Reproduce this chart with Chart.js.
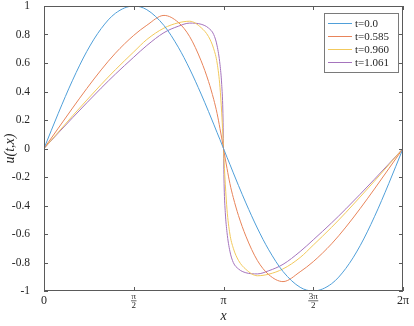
<!DOCTYPE html>
<html>
<head>
<meta charset="utf-8">
<script src="https://cdn.jsdelivr.net/npm/chart.js@4.4.1/dist/chart.umd.min.js"></script>
<style>
  html, body { margin: 0; padding: 0; background: #fff; }
  #wrap { width: 414px; height: 326px; }
</style>
</head>
<body>
<div id="wrap"><canvas id="burgersChart" width="414" height="326"></canvas></div>
<script>
// sample positions along x (radians), shared by every curve
const xs = [0, 0.25, 0.5, 0.75, 1.0, 1.25, 1.5708, 1.8, 2.1, 2.35, 2.55, 2.75, 2.88, 2.97, 3.03, 3.08, 3.11, 3.13, 3.1416,
            3.1532, 3.1732, 3.2032, 3.2532, 3.3132, 3.4032, 3.5332, 3.7332, 3.9332, 4.1832, 4.4832, 4.7124, 5.0332, 5.2832, 5.5332, 5.7832, 6.0332, 6.2832];

// u(t,x)
const u0 = [0, 0.247, 0.479, 0.682, 0.841, 0.949, 1.0, 0.974, 0.863, 0.711, 0.558, 0.382, 0.259, 0.171, 0.111, 0.062, 0.032, 0.012, 0,
            -0.012, -0.032, -0.062, -0.111, -0.171, -0.259, -0.382, -0.558, -0.711, -0.863, -0.974, -1.0, -0.949, -0.841, -0.682, -0.479, -0.247, 0];
const u1 = [0, 0.1425, 0.284, 0.4215, 0.5515, 0.669, 0.794, 0.865, 0.934, 0.885, 0.785, 0.615, 0.47, 0.345, 0.245, 0.14, 0.074, 0.027, 0,
            -0.027, -0.074, -0.14, -0.245, -0.345, -0.47, -0.615, -0.785, -0.885, -0.934, -0.865, -0.794, -0.669, -0.5515, -0.4215, -0.284, -0.1425, 0];
const u2 = [0, 0.115, 0.229, 0.34, 0.449, 0.553, 0.678, 0.765, 0.845, 0.882, 0.893, 0.848, 0.785, 0.70, 0.60, 0.43, 0.25, 0.10, 0,
            -0.10, -0.25, -0.43, -0.60, -0.70, -0.785, -0.848, -0.893, -0.882, -0.845, -0.765, -0.678, -0.553, -0.449, -0.34, -0.229, -0.115, 0];
const u3 = [0, 0.109, 0.216, 0.321, 0.4235, 0.522, 0.641, 0.723, 0.813, 0.858, 0.88, 0.872, 0.845, 0.80, 0.72, 0.59, 0.45, 0.27, 0,
            -0.27, -0.45, -0.59, -0.72, -0.80, -0.845, -0.872, -0.88, -0.858, -0.813, -0.723, -0.641, -0.522, -0.4235, -0.321, -0.216, -0.109, 0];

const seriesLabels = ['t=0.0', 't=0.585', 't=0.960', 't=1.061'];
const seriesColors = ['#4f9fd9', '#e8845a', '#f2c95c', '#a574bd'];

// x ticks: value in radians, label as [numerator, denominator] or plain text
const xTickVals = [0, 1.5708, 3.1416, 4.7124, 6.2832];
const xTickLabels = ['0', ['π', '2'], 'π', ['3π', '2'], '2π'];

const SERIF = '"Liberation Serif", "DejaVu Serif", serif';
const AXIS_COLOR = '#5a5a5a';

const toPoints = arr => xs.map((x, i) => ({ x: x, y: arr[i] }));

// box, inward ticks, x tick labels and the legend, MATLAB style
const matlabAxes = {
    id: 'matlabAxes',
    afterDraw(chart) {
        const ctx = chart.ctx;
        const a = chart.chartArea;
        const sx = chart.scales.x, sy = chart.scales.y;
        const tl = 4;
        ctx.save();
        ctx.strokeStyle = AXIS_COLOR;
        ctx.lineWidth = 1;
        ctx.strokeRect(a.left + 0.5, a.top + 0.5, a.right - a.left - 1, a.bottom - a.top - 1);

        ctx.beginPath();
        xTickVals.forEach(v => {
            const px = Math.round(sx.getPixelForValue(v)) + 0.5;
            ctx.moveTo(px, a.bottom); ctx.lineTo(px, a.bottom - tl);
            ctx.moveTo(px, a.top); ctx.lineTo(px, a.top + tl);
        });
        sy.ticks.forEach(t => {
            const py = Math.round(sy.getPixelForValue(t.value)) + 0.5;
            ctx.moveTo(a.left, py); ctx.lineTo(a.left + tl, py);
            ctx.moveTo(a.right, py); ctx.lineTo(a.right - tl, py);
        });
        ctx.stroke();

        // x tick labels (fractions drawn stacked)
        ctx.fillStyle = '#262626';
        ctx.textAlign = 'center';
        ctx.textBaseline = 'middle';
        xTickVals.forEach((v, i) => {
            const px = sx.getPixelForValue(v);
            const lab = xTickLabels[i];
            if (Array.isArray(lab)) {
                ctx.font = '9px ' + SERIF;
                ctx.fillText(lab[0], px, a.bottom + 6);
                ctx.fillText(lab[1], px, a.bottom + 14.5);
                const w = Math.max(ctx.measureText(lab[0]).width, ctx.measureText(lab[1]).width);
                ctx.fillRect(px - w / 2 - 0.5, a.bottom + 9.5, w + 1, 0.7);
            } else {
                ctx.font = '12px ' + SERIF;
                ctx.fillText(lab, px, a.bottom + 10);
            }
        });

        // legend
        const lx = 324, ly = 13, lw = 74, lh = 59;
        ctx.fillStyle = '#fff';
        ctx.fillRect(lx, ly, lw, lh);
        ctx.strokeStyle = '#7a7a7a';
        ctx.strokeRect(lx + 0.5, ly + 0.5, lw, lh);
        ctx.textAlign = 'left';
        ctx.font = '11px ' + SERIF;
        chart.data.datasets.forEach((ds, i) => {
            const y = ly + 10 + i * 13;
            ctx.strokeStyle = ds.borderColor;
            ctx.beginPath();
            ctx.moveTo(lx + 4, y + 0.5); ctx.lineTo(lx + 28, y + 0.5);
            ctx.stroke();
            ctx.fillStyle = '#262626';
            ctx.fillText(ds.label, lx + 31, y + 1);
        });
        ctx.restore();
    }
};

new Chart(document.getElementById('burgersChart'), {
    type: 'line',
    data: {
        datasets: [u0, u1, u2, u3].map((arr, i) => ({
            label: seriesLabels[i],
            data: toPoints(arr),
            borderColor: seriesColors[i],
            borderWidth: 1,
            pointRadius: 0,
            fill: false,
            cubicInterpolationMode: 'monotone'
        }))
    },
    options: {
        responsive: false,
        animation: false,
        events: [],
        layout: { padding: { top: 6, right: 11, left: 0, bottom: 0 } },
        plugins: { legend: { display: false }, tooltip: { enabled: false } },
        scales: {
            x: {
                type: 'linear',
                min: 0,
                max: 6.2832,
                grid: { display: false },
                border: { display: false },
                ticks: { display: false },
                afterBuildTicks: s => { s.ticks = xTickVals.map(v => ({ value: v })); },
                afterFit: s => { s.height = 35; s.paddingLeft = 0; s.paddingRight = 0; },
                title: {
                    display: true,
                    text: 'x',
                    color: '#262626',
                    font: { family: SERIF, size: 14, style: 'italic' },
                    padding: { top: 0, bottom: 1 }
                }
            },
            y: {
                min: -1,
                max: 1,
                grid: { display: false },
                border: { display: false },
                ticks: {
                    stepSize: 0.2,
                    padding: 6,
                    color: '#262626',
                    font: { family: SERIF, size: 11.5 },
                    callback: v => String(Number(v.toFixed(1)))
                },
                afterFit: s => { s.width = 44; s.paddingTop = 0; s.paddingBottom = 0; },
                title: {
                    display: true,
                    text: 'u(t,x)',
                    color: '#262626',
                    font: { family: SERIF, size: 14, style: 'italic' },
                    padding: { top: 2, bottom: 0 }
                }
            }
        }
    },
    plugins: [matlabAxes]
});
</script>
</body>
</html>
